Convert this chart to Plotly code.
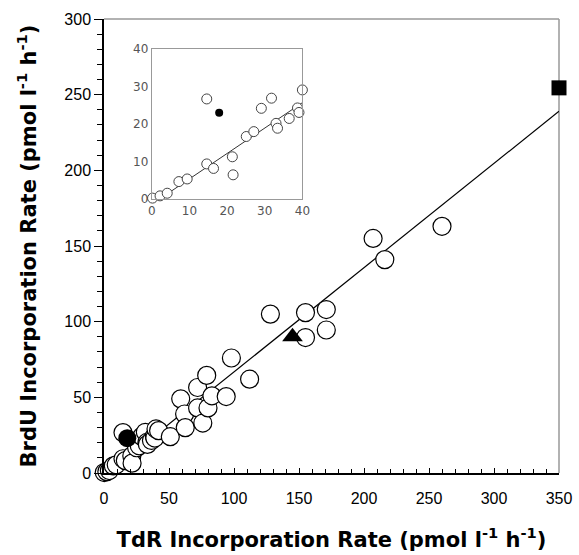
import plotly.graph_objects as go

# low-rate samples (TdR < 40), shown in both main panel and inset
low_tdr = [-1.5, 0.2, 2.2, 4.1, 7.2, 9.4, 14.6, 16.4, 14.6, 21.4, 21.6, 25.1, 27.1,
           29.1, 31.8, 33.0, 33.4, 36.5, 38.7, 39.1, 40.0]
low_brdu = [-0.5, 0.3, 0.9, 1.6, 4.7, 5.4, 9.4, 8.2, 26.7, 11.3, 6.5, 16.7, 18.0,
            24.2, 26.9, 20.2, 18.9, 21.5, 24.3, 23.1, 29.1]

# remaining open circles (TdR > 40)
high_tdr = [42, 51, 59, 62, 62.5, 72, 72, 76, 79, 80, 83, 94, 98, 112, 128,
            155, 155, 171, 171, 207, 216, 260]
high_brdu = [28, 24, 49, 39, 30, 56.5, 43, 33, 64.5, 43, 51, 50.5, 76, 62, 105,
             106, 89.5, 108, 94.5, 155, 141, 163]

# special symbols
dot_tdr, dot_brdu = [17.9], [23.0]
tri_tdr, tri_brdu = [145], [90]
sq_tdr, sq_brdu = [350], [254.5]

# regression line end points
fit_x = [3, 350]
fit_y = [0, 239]
fit_x_in = [2, 40]
fit_y_in = [0, 25.7]

font_tick = "Arial, Liberation Sans, sans-serif"
font_title = "DejaVu Sans"

fig = go.Figure()

open_mk = dict(symbol="circle", size=18, color="white", line=dict(color="black", width=1.2))
fig.add_trace(go.Scatter(x=fit_x, y=fit_y, mode="lines", line=dict(color="black", width=1.2),
                         xaxis="x", yaxis="y", cliponaxis=False))
fig.add_trace(go.Scatter(x=low_tdr + high_tdr, y=low_brdu + high_brdu, mode="markers",
                         marker=open_mk, xaxis="x", yaxis="y", cliponaxis=False))
fig.add_trace(go.Scatter(x=dot_tdr, y=dot_brdu, mode="markers",
                         marker=dict(symbol="circle", size=18, color="black"),
                         xaxis="x", yaxis="y", cliponaxis=False))
fig.add_trace(go.Scatter(x=tri_tdr, y=tri_brdu, mode="markers",
                         marker=dict(symbol="triangle-up", size=18, color="black"),
                         xaxis="x", yaxis="y", cliponaxis=False))
fig.add_trace(go.Scatter(x=sq_tdr, y=sq_brdu, mode="markers",
                         marker=dict(symbol="square", size=15, color="black"),
                         xaxis="x", yaxis="y", cliponaxis=False))

# inset
fig.add_trace(go.Scatter(x=fit_x_in, y=fit_y_in, mode="lines", line=dict(color="#333", width=1),
                         xaxis="x2", yaxis="y2", cliponaxis=False))
fig.add_trace(go.Scatter(x=low_tdr, y=low_brdu, mode="markers",
                         marker=dict(symbol="circle", size=10, color="white",
                                     line=dict(color="#444", width=1)),
                         xaxis="x2", yaxis="y2", cliponaxis=False))
fig.add_trace(go.Scatter(x=dot_tdr, y=dot_brdu, mode="markers",
                         marker=dict(symbol="circle", size=8, color="black"),
                         xaxis="x2", yaxis="y2", cliponaxis=False))

# grey top and right frame of the main panel
fig.add_shape(type="line", xref="paper", yref="paper", x0=0, x1=1, y0=1, y1=1,
              line=dict(color="#999", width=1.5), layer="below")
fig.add_shape(type="line", xref="paper", yref="paper", x0=1, x1=1, y0=0, y1=1,
              line=dict(color="#999", width=1.5), layer="below")

fig.update_layout(
    width=579, height=555,
    margin=dict(l=104, r=16, t=15, b=82),
    showlegend=False,
    plot_bgcolor="white", paper_bgcolor="white",
    font=dict(family=font_tick, color="black"),
    xaxis=dict(range=[0, 350], tickvals=[0, 50, 100, 150, 200, 250, 300, 350],
               ticks="inside", ticklen=5, tickwidth=1, tickcolor="black",
               minor=dict(dtick=10, ticks="inside", ticklen=4, tickcolor="black"),
               showline=True, linecolor="black", linewidth=1.5,
               showgrid=False, zeroline=False, tickfont=dict(size=16),
               ticklabelstandoff=10, ticklabeloverflow="allow", automargin=False,
               title=dict(text="TdR Incorporation Rate (pmol l<sup>-1</sup> h<sup>-1</sup>)",
                          font=dict(size=21, family=font_title, weight="bold"), standoff=26)),
    yaxis=dict(range=[0, 300], tickvals=[0, 50, 100, 150, 200, 250, 300],
               ticks="outside", ticklen=8, tickwidth=1, tickcolor="black",
               minor=dict(dtick=10, ticks="outside", ticklen=5, tickcolor="black"),
               showline=True, linecolor="black", linewidth=1.5,
               showgrid=False, zeroline=False, tickfont=dict(size=16),
               automargin=False,
               title=dict(text="BrdU Incorporation Rate (pmol l<sup>-1</sup> h<sup>-1</sup>)",
                          font=dict(size=21, family=font_title, weight="bold"), standoff=22)),
    xaxis2=dict(domain=[0.105, 0.436], anchor="y2", range=[0, 40],
                tickvals=[0, 10, 20, 30, 40], ticks="", showgrid=False, zeroline=False,
                showline=True, linecolor="#999", linewidth=1, mirror=True,
                tickfont=dict(size=12, family=font_title, color="#555")),
    yaxis2=dict(domain=[0.603, 0.934], anchor="x2", range=[0, 40],
                tickvals=[0, 10, 20, 30, 40], ticks="", showgrid=False, zeroline=False,
                showline=True, linecolor="#999", linewidth=1, mirror=True,
                tickfont=dict(size=12, family=font_title, color="#555")),
)

# drop the default page margin so the 579x555 figure fills the window exactly
fig.write_html("out.html", config={"displayModeBar": False},
               post_script="document.body.style.margin='0px';")
